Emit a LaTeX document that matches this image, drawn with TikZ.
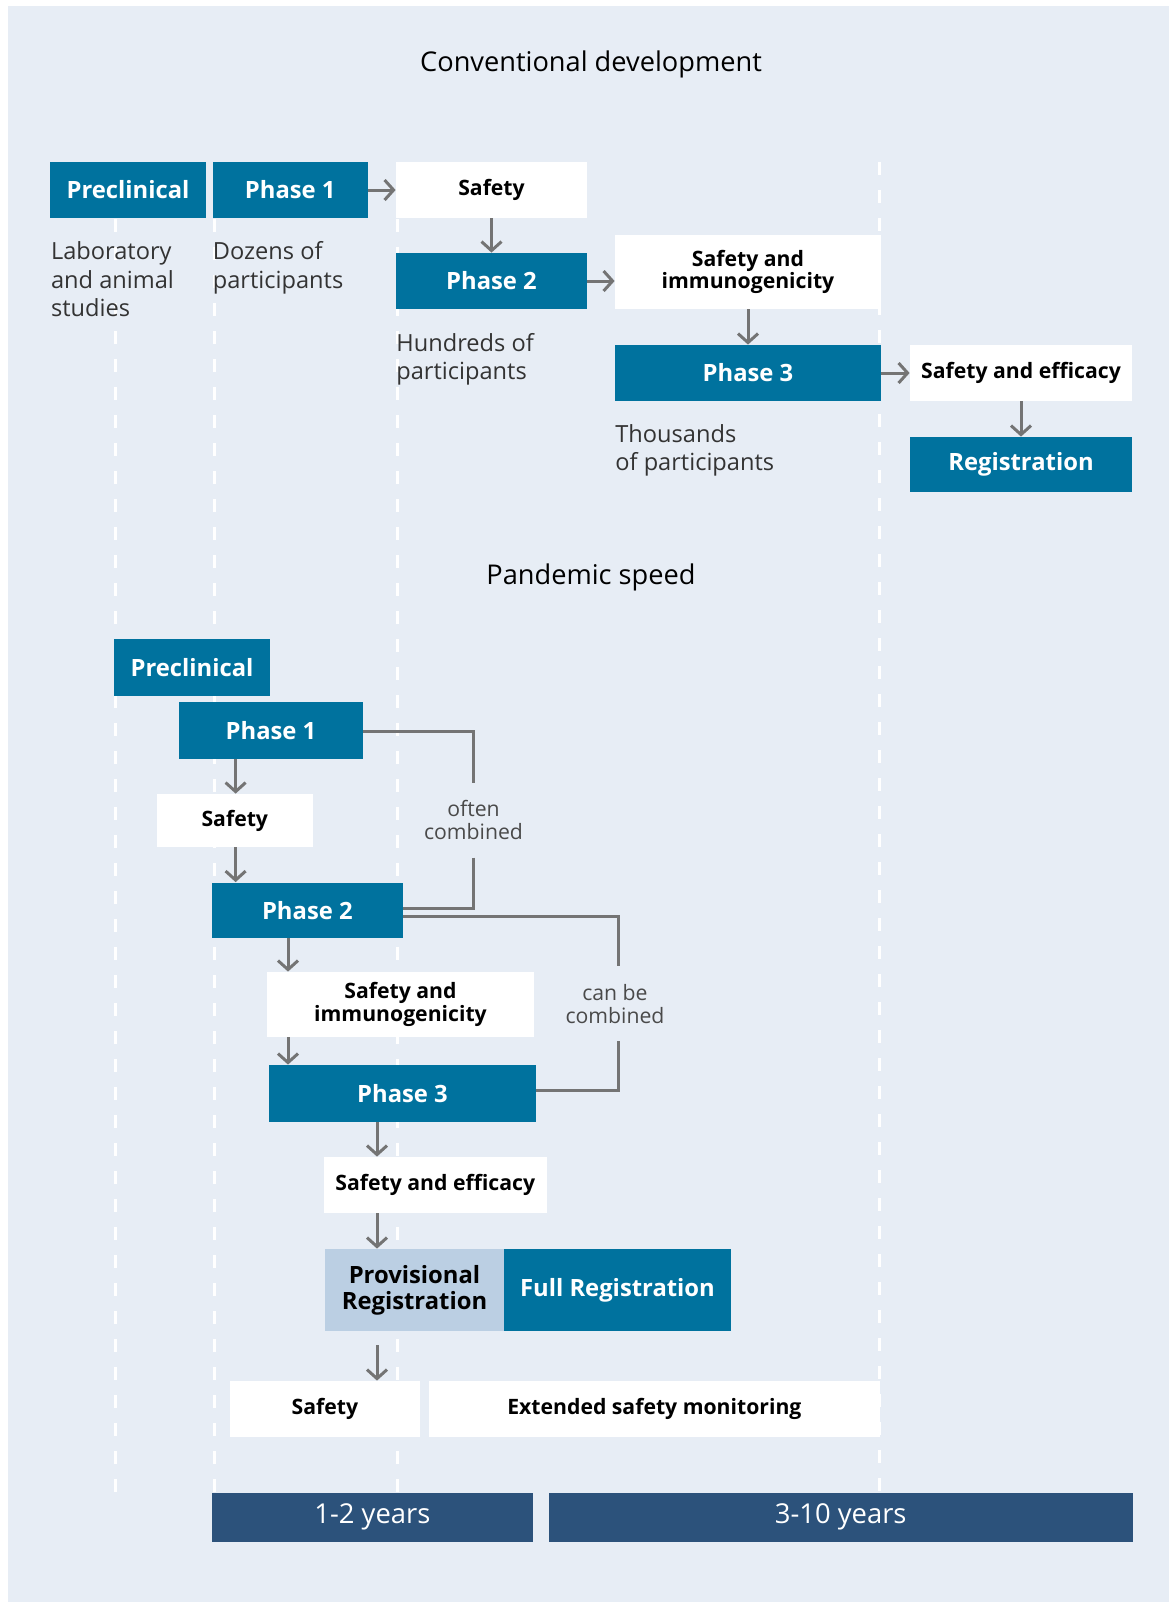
\documentclass[tikz,border=0pt]{standalone}
\usepackage{fontspec}
\setmainfont{Open Sans}
\usetikzlibrary{arrows.meta}

\definecolor{bgc}{HTML}{E7EDF5}
\definecolor{phase}{HTML}{00729E}
\definecolor{navy}{HTML}{2C527B}
\definecolor{provc}{HTML}{BBCFE3}
\definecolor{arr}{HTML}{747474}
\definecolor{txt}{HTML}{333333}
\definecolor{lbl}{HTML}{4A4A4A}

\tikzset{
  % size of a box, given in pixels of the 1169 x 1602 canvas
  size/.style 2 args={minimum width=#1*0.5pt, minimum height=#2*0.5pt},
  anybox/.style={draw=none, inner sep=0pt, align=center},
  phasebox/.style={anybox, fill=phase, text=white,
    font=\bfseries\fontsize{11.9}{13}\selectfont},
  outcome/.style={anybox, fill=white, text=black,
    font=\bfseries\fontsize{10.6}{11.4}\selectfont},
  provbox/.style={anybox, fill=provc, text=black,
    font=\bfseries\fontsize{11.9}{13}\selectfont},
  yearbox/.style={anybox, fill=navy, text=white,
    font=\fontsize{13.7}{15}\selectfont},
  heading/.style={inner sep=0pt, text=black, font=\fontsize{13.6}{15}\selectfont},
  desc/.style={inner sep=0pt, text=txt, align=left, anchor=north west,
    font=\fontsize{11.8}{14.25}\selectfont},
  note/.style={inner sep=0pt, text=lbl, align=center,
    font=\fontsize{10.6}{11.6}\selectfont},
  flow/.style={draw=arr, line width=1.5pt,
    -{Straight Barb[length=4.5pt,width=10pt,line width=1.5pt]}},
  link/.style={draw=arr, line width=1.5pt, line join=miter},
  timeline/.style={draw=white, line width=1.5pt, dash pattern=on 6.5pt off 7.5pt},
}

\begin{document}
\begin{tikzpicture}[x=0.5pt, y=-0.5pt]
  \useasboundingbox (0,0) rectangle (1169,1602);
  \fill[bgc] (7.5,6) rectangle (1169,1602);

  % time markers behind everything
  \draw[timeline] (115.6,219) -- (115.6,1497);
  \draw[timeline] (214,219) -- (214,1492);
  \draw[timeline] (397.4,219) -- (397.4,1492);
  \draw[timeline] (879,162) -- (879,1492);

  % ---------- conventional development ----------
  \node[heading] (convtitle) at (591,64) {Conventional development};

  \node[phasebox, size={156}{56}] (pre1) at (128,190) {Preclinical};
  \node[phasebox, size={155.5}{56}] (ph1c) at (290.25,190) {Phase 1};
  \node[outcome, size={191}{56}] (safc) at (491.5,190) {Safety};
  \node[phasebox, size={191}{56}] (ph2c) at (491.5,281) {Phase 2};
  \node[outcome, size={266}{74}] (sic) at (748,272) {Safety and\\immunogenicity};
  \node[phasebox, size={266}{56}] (ph3c) at (748,373) {Phase 3};
  \node[outcome, size={222}{56}] (sec) at (1021,373) {Safety and efficacy};
  \node[phasebox, size={222}{55}] (regc) at (1021,464.5) {Registration};

  \node[desc] (labtxt) at (50.7,241.5) {Laboratory\\and animal\\studies};
  \node[desc] (dozens) at (212.5,241.5) {Dozens of\\participants};
  \node[desc] (hundreds) at (396,333) {Hundreds of\\participants};
  \node[desc] (thousands) at (615,424) {Thousands\\of participants};

  \draw[flow] (ph1c.east) -- (safc.west);
  \draw[flow] (safc.south) -- (ph2c.north);
  \draw[flow] (ph2c.east) -- (ph2c.east -| sic.west);
  \draw[flow] (sic.south) -- (ph3c.north);
  \draw[flow] (ph3c.east) -- (sec.west);
  \draw[flow] (sec.south) -- (regc.north);

  % ---------- pandemic speed ----------
  \node[heading] (pandtitle) at (591,577) {Pandemic speed};

  \node[phasebox, size={156}{57}] (pre2) at (192,667.5) {Preclinical};
  \node[phasebox, size={184}{56.6}] (ph1p) at (271,730.3) {Phase 1};
  \node[outcome, size={156.4}{53}] (safp) at (234.8,820.5) {Safety};
  \node[phasebox, size={190.7}{55.5}] (ph2p) at (307.35,910.25) {Phase 2};
  \node[outcome, size={267}{65}] (sip) at (400.5,1004.5) {Safety and\\immunogenicity};
  \node[phasebox, size={267}{57}] (ph3p) at (402.5,1093.5) {Phase 3};
  \node[outcome, size={222.6}{56}] (sep) at (435.3,1185) {Safety and efficacy};
  \node[provbox, size={179}{82}] (prov) at (414.5,1290) {Provisional\\Registration};
  \node[phasebox, size={227}{82}] (full) at (617.5,1290) {Full Registration};
  \node[outcome, size={190.3}{55.7}] (saf2) at (324.85,1408.85) {Safety};
  \node[outcome, size={451.2}{55.7}] (ext) at (654.4,1408.85) {Extended safety monitoring};

  \node[yearbox, size={321.2}{49}] (short) at (372.4,1517.2) {1-2 years};
  \node[yearbox, size={583.9}{49}] (long) at (840.75,1517.2) {3-10 years};

  \coordinate (colA) at (235.6,0);
  \coordinate (colB) at (288,0);
  \coordinate (colC) at (377,0);

  \draw[flow] (ph1p.south -| colA) -- (safp.north -| colA);
  \draw[flow] (safp.south -| colA) -- (ph2p.north -| colA);
  \draw[flow] (ph2p.south -| colB) -- (sip.north -| colB);
  \draw[flow] (sip.south -| colB) -- (ph3p.north -| colB);
  \draw[flow] (ph3p.south -| colC) -- (sep.north -| colC);
  \draw[flow] (sep.south -| colC) -- (prov.north -| colC);
  \draw[flow, shorten <=7pt] (prov.south -| colC) -- (saf2.north -| colC);

  % brackets joining the phases that may overlap
  \node[note] (often) at (473.5,820) {often\\combined};
  \coordinate (oftenTop) at (473.5,783);
  \coordinate (oftenBot) at (473.5,857.5);
  \draw[link] ([yshift=-0.8pt]ph1p.east) -| (oftenTop);
  \draw[link] (oftenBot) |- ([yshift=0.7pt]ph2p.east);

  \node[note] (canbe) at (615,1004) {can be\\combined};
  \coordinate (canTop) at (618,966);
  \coordinate (canBot) at (618,1041);
  \draw[link] ([yshift=-3.2pt]ph2p.east) -| (canTop);
  \draw[link] (canBot) |- ([yshift=1.7pt]ph3p.east);
\end{tikzpicture}
\end{document}
